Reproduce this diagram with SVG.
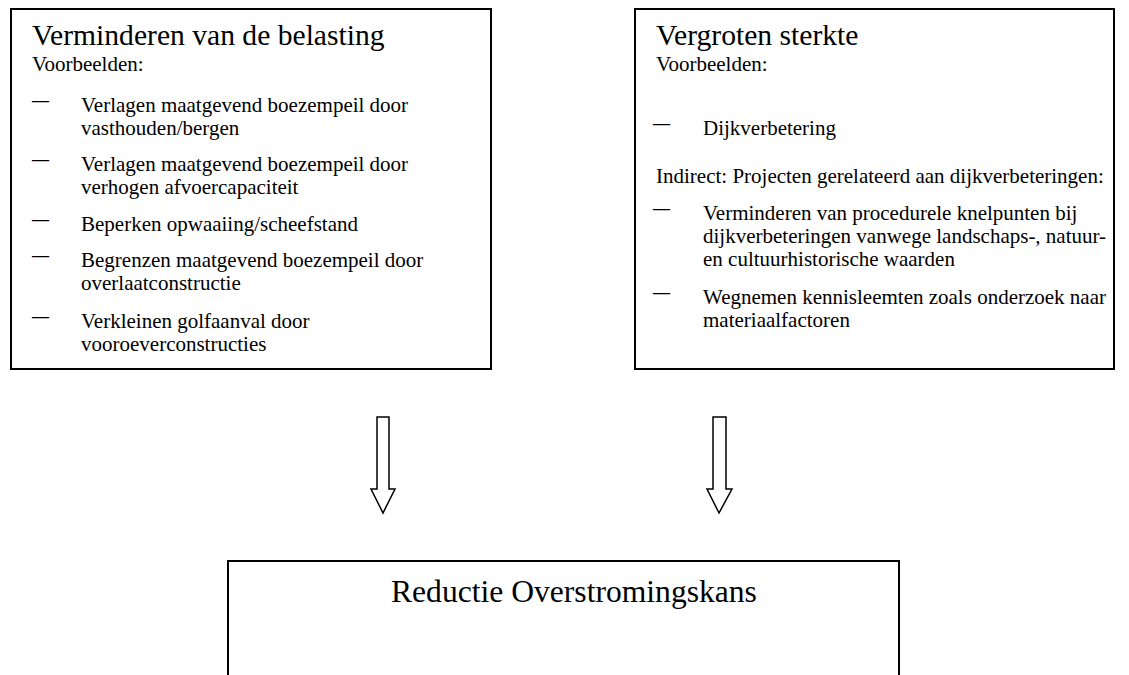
<svg xmlns="http://www.w3.org/2000/svg" width="1129" height="675" viewBox="0 0 1129 675">
<style>
  .box { fill: #ffffff; stroke: #000000; stroke-width: 2; }
  .t { font-family: "Liberation Serif", "Times New Roman", serif; fill: #000000; }
  .title { font-size: 29.6px; }
  .big { font-size: 31.6px; }
  .body { font-size: 21px; }
  .dash { font-size: 17px; font-weight: bold; }
  .arrow { fill: #ffffff; stroke: #000000; stroke-width: 1.5; stroke-linejoin: miter; }
</style>
<rect width="1129" height="675" fill="#ffffff"/>

<g id="node-belasting">
  <rect class="box" x="11" y="9" width="480" height="360"/>
  <text class="t title" x="32" y="45">Verminderen van de belasting</text>
  <text class="t body" x="32" y="71">Voorbeelden:</text>
  <text class="t dash" x="32" y="106">—</text>
  <text class="t body" x="81" y="112">Verlagen maatgevend boezempeil door</text>
  <text class="t body" x="81" y="135">vasthouden/bergen</text>
  <text class="t dash" x="32" y="165">—</text>
  <text class="t body" x="81" y="171">Verlagen maatgevend boezempeil door</text>
  <text class="t body" x="81" y="194">verhogen afvoercapaciteit</text>
  <text class="t dash" x="32" y="225">—</text>
  <text class="t body" x="81" y="231">Beperken opwaaiing/scheefstand</text>
  <text class="t dash" x="32" y="261">—</text>
  <text class="t body" x="81" y="267">Begrenzen maatgevend boezempeil door</text>
  <text class="t body" x="81" y="290">overlaatconstructie</text>
  <text class="t dash" x="32" y="322">—</text>
  <text class="t body" x="81" y="328">Verkleinen golfaanval door</text>
  <text class="t body" x="81" y="351">vooroeverconstructies</text>
</g>

<g id="node-sterkte">
  <rect class="box" x="635" y="9" width="479" height="360"/>
  <text class="t title" x="656" y="45">Vergroten sterkte</text>
  <text class="t body" x="656" y="71">Voorbeelden:</text>
  <text class="t dash" x="653" y="129">—</text>
  <text class="t body" x="703" y="135">Dijkverbetering</text>
  <text class="t body" x="656" y="183">Indirect: Projecten gerelateerd aan dijkverbeteringen:</text>
  <text class="t dash" x="653" y="214">—</text>
  <text class="t body" x="703" y="220">Verminderen van procedurele knelpunten bij</text>
  <text class="t body" x="703" y="243">dijkverbeteringen vanwege landschaps-, natuur-</text>
  <text class="t body" x="703" y="266">en cultuurhistorische waarden</text>
  <text class="t dash" x="653" y="298">—</text>
  <text class="t body" x="703" y="304">Wegnemen kennisleemten zoals onderzoek naar</text>
  <text class="t body" x="703" y="327">materiaalfactoren</text>
</g>

<g id="node-reductie">
  <rect class="box" x="228" y="561" width="671" height="130"/>
  <text class="t big" x="391" y="602">Reductie Overstromingskans</text>
</g>

<g id="connectors">
  <path class="arrow" d="M377,417 L389,417 L389,489 L395,489 L383,513 L371,489 L377,489 Z"/>
  <path class="arrow" d="M713,417 L726,417 L726,489 L732,489 L719,513 L707,489 L713,489 Z"/>
</g>
</svg>
